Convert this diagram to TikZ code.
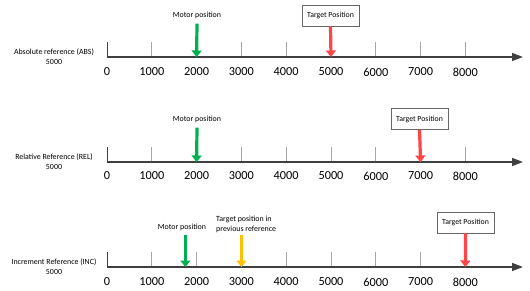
\documentclass[tikz,border=0pt]{standalone}
\usepackage{fontspec}
\setmainfont{Carlito}
\usetikzlibrary{arrows.meta,positioning}
\definecolor{motgreen}{HTML}{00B050}
\definecolor{tgtred}{HTML}{FF4545}
\definecolor{prevgold}{HTML}{FFC000}
\definecolor{axisgray}{HTML}{404040}
\definecolor{tickgray}{HTML}{A6A6A6}

\begin{document}
\begin{tikzpicture}[x=1pt, y=-1pt,
    axisline/.style={line width=1.5pt, axisgray, -{Triangle[length=11pt,width=8pt]}},
    tickline/.style={tickgray, line width=1pt},
    numlabel/.style={font=\fontsize{12.3}{12}\selectfont},
    smalllabel/.style={font=\fontsize{7.9}{10}\selectfont, align=center, inner sep=1pt},
    tgtbox/.style={draw=axisgray!80, line width=0.8pt, fill=white, minimum width=57pt, minimum height=21pt, inner sep=0pt, font=\fontsize{7.8}{9}\selectfont},
    posarrow/.style={line width=3.2pt, -{Triangle[length=6.5pt,width=10pt]}}]
    \useasboundingbox (0,0) rectangle (530,291);
    % Scale
    \def\xo{107}
    \def\dx{44.8}

    % Absolute reference axis
    \coordinate (abs0) at (\xo,57);
    \coordinate (absend) at (523,57);
    \foreach \k in {1,3,4,6,7,8}
        \draw[tickline] (\xo+\k*\dx,42) -- (\xo+\k*\dx,57);
    \draw[axisgray, line width=1pt] (abs0) -- ++(0,-15);
    \draw[axisline] (abs0) -- (absend);
    \foreach \k [evaluate=\k as \v using int(\k*1000)] in {0,...,8}
        \node[numlabel] (absnum\k) at (\xo+\k*\dx,72) {\v};
    \node[smalllabel] (absname) at (54,57) {Absolute reference (ABS)\\5000};

    % ABS positions
    \coordinate (absmot) at (\xo+2*\dx,57);
    \coordinate (abstgt) at (\xo+5*\dx,57);
    \node[smalllabel] (absmotlbl) at (197,15) {Motor position};
    \node[tgtbox] (abstgtbox) at (330.5,15.5) {Target Position};
    \draw[posarrow, motgreen] (absmotlbl.south) ++(0,4) -- (absmot);
    \draw[posarrow, tgtred] (abstgtbox.south) -- (abstgt);

    % Relative reference axis
    \coordinate (rel0) at (\xo,162);
    \coordinate (relend) at (523,162);
    \foreach \k in {1,3,4,5,6,8}
        \draw[tickline] (\xo+\k*\dx,147) -- (\xo+\k*\dx,162);
    \draw[axisgray, line width=1pt] (rel0) -- ++(0,-15);
    \draw[axisline] (rel0) -- (relend);
    \foreach \k [evaluate=\k as \v using int(\k*1000)] in {0,...,8}
        \node[numlabel] (relnum\k) at (\xo+\k*\dx,176) {\v};
    \node[smalllabel] (relname) at (54,162) {Relative Reference (REL)\\5000};

    % REL positions
    \coordinate (relmot) at (\xo+2*\dx,162);
    \coordinate (reltgt) at (\xo+7*\dx,162);
    \node[smalllabel] (relmotlbl) at (197,119) {Motor position};
    \node[tgtbox] (reltgtbox) at (419.5,119) {Target Position};
    \draw[posarrow, motgreen] (relmotlbl.south) ++(0,4) -- (relmot);
    \draw[posarrow, tgtred] (reltgtbox.south) -- (reltgt);

    % Increment reference axis
    \coordinate (inc0) at (\xo,267);
    \coordinate (incend) at (523,267);
    \foreach \k in {1,2,4,5,6,7}
        \draw[tickline] (\xo+\k*\dx,252) -- (\xo+\k*\dx,267);
    \draw[axisgray, line width=1pt] (inc0) -- ++(0,-15);
    \draw[axisline] (inc0) -- (incend);
    \foreach \k [evaluate=\k as \v using int(\k*1000)] in {0,...,8}
        \node[numlabel] (incnum\k) at (\xo+\k*\dx,282) {\v};
    \node[smalllabel] (incname) at (54,267) {Increment Reference (INC)\\5000};

    % INC positions
    \coordinate (incmot) at (\xo+1.75*\dx,267);
    \coordinate (incprev) at (\xo+3*\dx,267);
    \coordinate (inctgt) at (\xo+8*\dx,267);
    \node[smalllabel] (incmotlbl) at (182,227) {Motor position};
    \node[smalllabel, align=left, anchor=west] (incprevlbl) at (215,224) {Target position in\\previous reference};
    \node[tgtbox] (inctgtbox) at (465.5,222.5) {Target Position};
    \draw[posarrow, motgreen] (incmotlbl.south -| incmot) ++(0,3) -- (incmot);
    \draw[posarrow, prevgold] (incprevlbl.south -| incprev) ++(0,1) -- (incprev);
    \draw[posarrow, tgtred] (inctgtbox.south) -- (inctgt);
\end{tikzpicture}
\end{document}
